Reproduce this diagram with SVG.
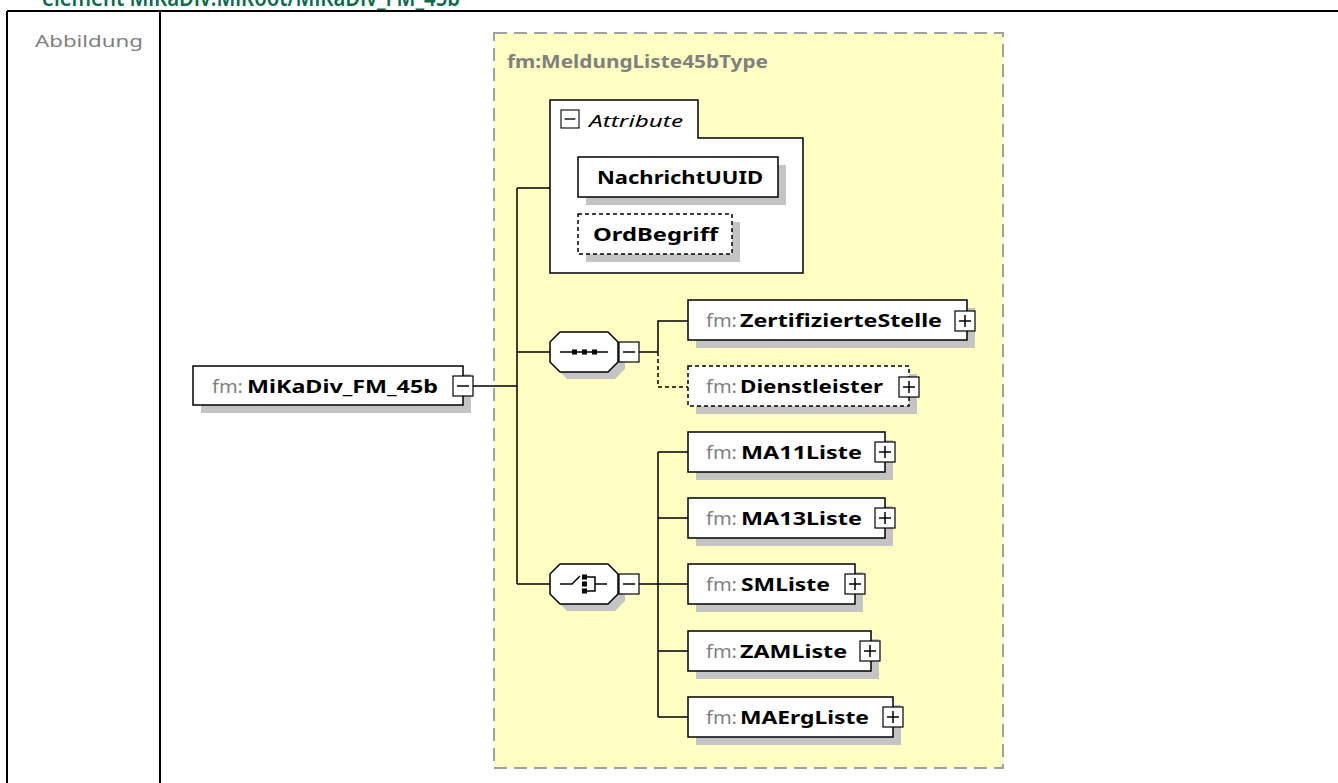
<svg xmlns="http://www.w3.org/2000/svg" width="1338" height="783" viewBox="0 0 1338 783">
<style>
.tbl{stroke:#000;stroke-width:2;fill:none}
.ybox{fill:#ffffc4;stroke:#a0a0a0;stroke-width:2;stroke-dasharray:13 7}
.sh{fill:#c4c4c4}
.box{fill:#fff;stroke:#000;stroke-width:1.5}
.dbox{fill:#fff;stroke:#000;stroke-width:1.5;stroke-dasharray:4 3}
.ln{stroke:#000;stroke-width:1.5;fill:none}
.dln{stroke:#000;stroke-width:1.5;fill:none;stroke-dasharray:4 3}
.pm{fill:#fff;stroke:#000;stroke-width:1.2}
.pml{stroke:#000;stroke-width:1.5;fill:none}
.pfx{font-family:"Noto Sans","Open Sans",sans-serif;font-size:18px;fill:#808080}
.nm{font-family:"Noto Sans","Open Sans",sans-serif;font-size:18px;font-weight:bold;fill:#000}
.att{font-family:"Noto Sans","Open Sans",sans-serif;font-size:17px;font-weight:bold;fill:#000}
.ic{fill:#000}
</style>
<defs>
<g id="plus"><rect class="pm" x="0" y="0" width="20" height="20"/><path class="pml" d="M4,10H16M10,4V16"/></g>
<g id="minus"><rect class="pm" x="0" y="0" width="20" height="20"/><path class="pml" d="M4,10H16"/></g>
</defs>

<text x="42" y="6" font-family="'Noto Sans','Open Sans',sans-serif" font-size="23" font-weight="600" fill="#0a6b50" textLength="418" lengthAdjust="spacingAndGlyphs">element MiKaDiv:MiRoot/MiKaDiv_FM_45b</text>

<g id="table">
<path class="tbl" d="M7,11H1338M7,11V783M160,11V783"/>
<text x="35" y="47" font-family="'Noto Sans','Open Sans',sans-serif" font-size="16" fill="#808080" textLength="108" lengthAdjust="spacingAndGlyphs">Abbildung</text>
</g>

<g id="type-MeldungListe45bType">
<rect class="ybox" x="494" y="33" width="509" height="735"/>
<text x="507" y="68" font-family="'Noto Sans','Open Sans',sans-serif" font-size="17" font-weight="bold" fill="#808080" textLength="261" lengthAdjust="spacingAndGlyphs">fm:MeldungListe45bType</text>
</g>

<g id="connectors">
<path class="ln" d="M473,386H517M517,188V584M517,188H550M517,352H550M517,584H550"/>
<path class="ln" d="M639,352H658M658,352V321H688"/>
<path class="dln" d="M658,352V387H688"/>
<path class="ln" d="M639,584H658M658,452V717M658,452H688M658,518H688M658,584H688M658,651H688M658,717H688"/>
</g>

<g id="attributes">
<path class="box" d="M550,100H698V138H803V273H550Z"/>
<use href="#minus" transform="translate(561,110) scale(0.9)"/>
<text x="589" y="127" font-family="'Noto Sans','Open Sans',sans-serif" font-size="17" font-style="italic" fill="#000" textLength="94" lengthAdjust="spacingAndGlyphs">Attribute</text>
<g id="attr-NachrichtUUID">
<rect class="sh" x="586" y="165" width="200" height="40"/>
<rect class="box" x="578" y="157" width="200" height="40"/>
<text class="att" x="597" y="184" textLength="166" lengthAdjust="spacingAndGlyphs">NachrichtUUID</text>
</g>
<g id="attr-OrdBegriff">
<rect class="sh" x="586" y="222" width="154" height="40"/>
<rect class="dbox" x="578" y="214" width="154" height="40"/>
<text class="att" x="593" y="241" textLength="125" lengthAdjust="spacingAndGlyphs">OrdBegriff</text>
</g>
</g>

<g id="MiKaDiv_FM_45b">
<rect class="sh" x="201" y="374" width="270" height="39"/>
<rect class="box" x="193" y="366" width="270" height="39"/>
<text class="pfx" x="212" y="393" textLength="31" lengthAdjust="spacingAndGlyphs">fm:</text>
<text class="nm" x="247" y="393" textLength="191" lengthAdjust="spacingAndGlyphs">MiKaDiv_FM_45b</text>
<use href="#minus" x="453" y="376"/>
</g>

<g id="sequence">
<path class="sh" d="M567,339H615L625,349V369L615,379H567L557,369V349Z"/>
<path class="box" d="M560,332H608L618,342V362L608,372H560L550,362V342Z"/>
<path class="ln" d="M560,352H608"/>
<rect class="ic" x="572" y="349.5" width="5" height="5"/>
<rect class="ic" x="582" y="349.5" width="5" height="5"/>
<rect class="ic" x="592" y="349.5" width="5" height="5"/>
<use href="#minus" x="619" y="342"/>
</g>

<g id="choice">
<path class="sh" d="M567,571H615L625,581V601L615,611H567L557,601V581Z"/>
<path class="box" d="M560,564H608L618,574V594L608,604H560L550,594V574Z"/>
<path class="ln" d="M560,584H572L580,576M587,577H595V591H587M595,584H607"/>
<rect class="ic" x="582" y="574.5" width="5" height="5"/>
<rect class="ic" x="582" y="581.5" width="5" height="5"/>
<rect class="ic" x="582" y="588.5" width="5" height="5"/>
<use href="#minus" x="619" y="574"/>
</g>

<g id="ZertifizierteStelle">
<rect class="sh" x="696" y="308" width="279" height="40"/>
<rect class="box" x="688" y="300" width="279" height="40"/>
<text class="pfx" x="706" y="327" textLength="31" lengthAdjust="spacingAndGlyphs">fm:</text>
<text class="nm" x="740" y="327" textLength="202" lengthAdjust="spacingAndGlyphs">ZertifizierteStelle</text>
<use href="#plus" x="955" y="311"/>
</g>

<g id="Dienstleister">
<rect class="sh" x="696" y="374" width="221" height="40"/>
<rect class="dbox" x="688" y="366" width="221" height="40"/>
<text class="pfx" x="706" y="393" textLength="31" lengthAdjust="spacingAndGlyphs">fm:</text>
<text class="nm" x="740" y="393" textLength="143" lengthAdjust="spacingAndGlyphs">Dienstleister</text>
<use href="#plus" x="899" y="377"/>
</g>

<g id="MA11Liste">
<rect class="sh" x="696" y="440" width="197" height="40"/>
<rect class="box" x="688" y="432" width="197" height="40"/>
<text class="pfx" x="706" y="459" textLength="31" lengthAdjust="spacingAndGlyphs">fm:</text>
<text class="nm" x="741" y="459" textLength="121" lengthAdjust="spacingAndGlyphs">MA11Liste</text>
<use href="#plus" x="875" y="442"/>
</g>

<g id="MA13Liste">
<rect class="sh" x="696" y="506" width="197" height="40"/>
<rect class="box" x="688" y="498" width="197" height="40"/>
<text class="pfx" x="706" y="525" textLength="31" lengthAdjust="spacingAndGlyphs">fm:</text>
<text class="nm" x="741" y="525" textLength="121" lengthAdjust="spacingAndGlyphs">MA13Liste</text>
<use href="#plus" x="875" y="508"/>
</g>

<g id="SMListe">
<rect class="sh" x="696" y="572" width="167" height="40"/>
<rect class="box" x="688" y="564" width="167" height="40"/>
<text class="pfx" x="706" y="591" textLength="31" lengthAdjust="spacingAndGlyphs">fm:</text>
<text class="nm" x="741" y="591" textLength="89" lengthAdjust="spacingAndGlyphs">SMListe</text>
<use href="#plus" x="845" y="574"/>
</g>

<g id="ZAMListe">
<rect class="sh" x="696" y="639" width="183" height="40"/>
<rect class="box" x="688" y="631" width="183" height="40"/>
<text class="pfx" x="706" y="658" textLength="31" lengthAdjust="spacingAndGlyphs">fm:</text>
<text class="nm" x="740" y="658" textLength="107" lengthAdjust="spacingAndGlyphs">ZAMListe</text>
<use href="#plus" x="860" y="641"/>
</g>

<g id="MAErgListe">
<rect class="sh" x="696" y="705" width="205" height="40"/>
<rect class="box" x="688" y="697" width="205" height="40"/>
<text class="pfx" x="706" y="724" textLength="31" lengthAdjust="spacingAndGlyphs">fm:</text>
<text class="nm" x="740" y="724" textLength="129" lengthAdjust="spacingAndGlyphs">MAErgListe</text>
<use href="#plus" x="883" y="707"/>
</g>
</svg>
